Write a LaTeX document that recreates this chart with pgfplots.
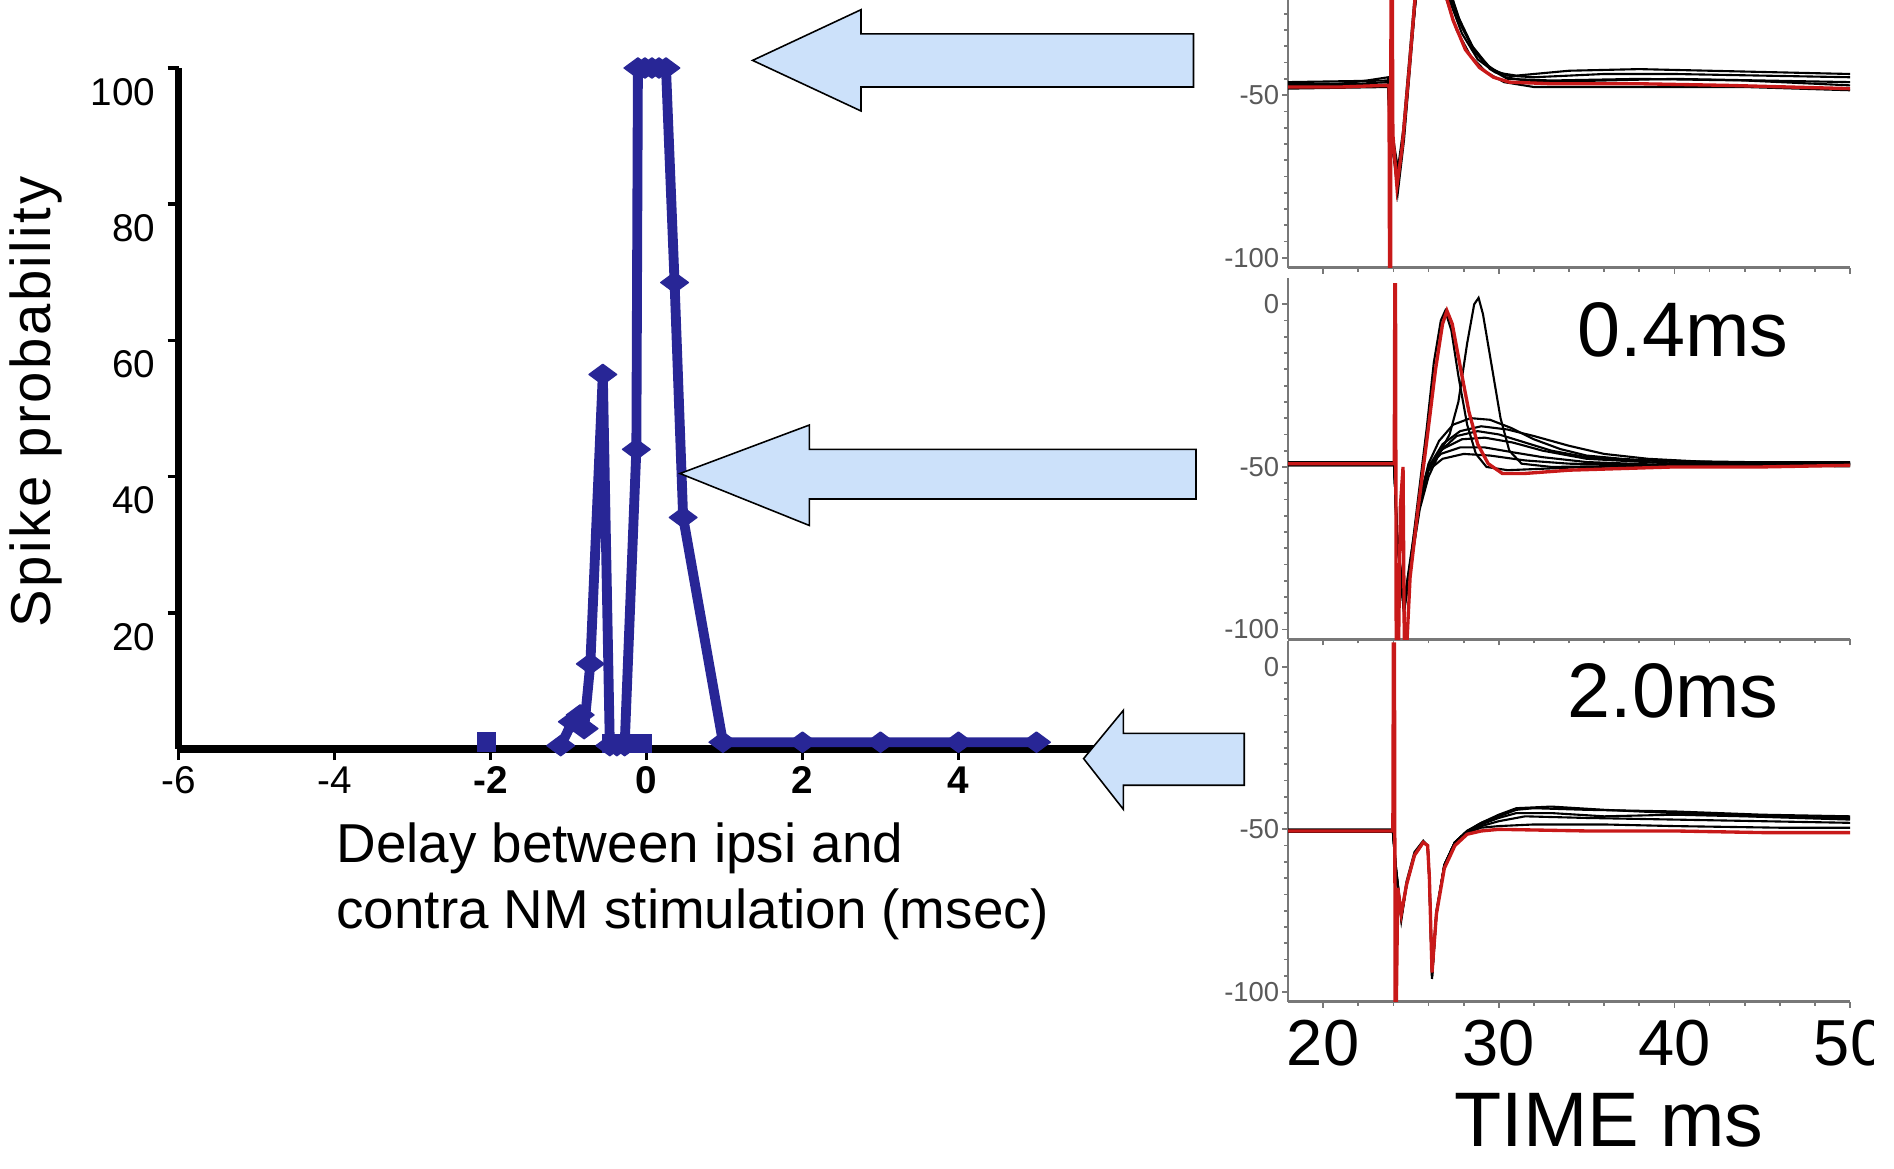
\documentclass[border=0pt]{standalone}
\usepackage{pgfplots}
\pgfplotsset{compat=1.18}
\usepackage{fontspec}
\setmainfont{Liberation Sans}
\definecolor{dblue}{RGB}{40,38,150}
\definecolor{lblue}{RGB}{204,225,250}
\definecolor{tred}{RGB}{200,25,25}
\definecolor{axgray}{RGB}{120,120,120}

\pgfplotsset{
  panel/.style={
    anchor=south west, scale only axis, width=56.2mm, height=36.1mm,
    xmin=18, xmax=50, ymin=-103, ymax=8,
    axis x line=bottom, axis y line=left,
    axis line style={axgray, line width=0.7pt, -},
    xtick={20,30,40,50}, minor x tick num=4,
    ytick={-100,-50,0}, minor y tick num=9,
    tick style={axgray, line width=0.5pt},
    major tick length=0.6mm, minor tick length=0.4mm,
    tick align=outside,
    yticklabels={-100,-50,0},
    yticklabel style={font=\fontsize{7.8}{9}\selectfont, text=black!65, inner sep=0.6pt},
    xticklabels={},
  },
  blk/.style={black, line width=0.6pt, no marks},
  rd/.style={tred, line width=0.95pt, no marks},
}

\begin{document}
\begin{tikzpicture}
\useasboundingbox (0,0) rectangle (189.4mm,116.8mm);
\clip (0,0) rectangle (187.3mm,116.8mm);

% ---------------- left chart ----------------
\begin{axis}[
  at={(17.85mm,41.9mm)}, anchor=south west, scale only axis,
  width=93.6mm, height=68.1mm,
  xmin=-6, xmax=6, ymin=0, ymax=100, clip=false,
  axis x line=bottom, axis y line=left,
  axis line style={line width=2pt, -},
  xtick={-6,-4,-2,0,2,4},
  xticklabels={-6,-4,\textbf{-2},\textbf{0},\textbf{2},\textbf{4}},
  ytick={20,40,60,80,100}, yticklabels={20,40,60,80,100},
  tick style={black, line width=1pt}, major tick length=1.1mm, tick align=outside,
  xticklabel style={font=\fontsize{11}{12}\selectfont, yshift=0.6mm},
  yticklabel style={font=\fontsize{11}{13}\selectfont, yshift=-2.4mm},
]
\addplot[dblue, only marks, mark=square*, mark size=2.6pt, mark options={line width=0.4pt}]
  coordinates {(-2.05,1)};
\addplot[dblue, line width=2.8pt, mark=square*, mark size=2.4pt, mark options={line width=0.4pt}]
  coordinates {(-0.45,0.8) (-0.28,0.8) (-0.05,0.8)};
\addplot[dblue, line width=2.8pt, line join=round, mark=diamond*, mark size=3.6pt,
  mark options={line width=0.4pt, xscale=1.45, yscale=0.8}]
  coordinates {
  (-1.1,0.5) (-0.95,4) (-0.85,5) (-0.8,3) (-0.72,12.5) (-0.56,55)
  (-0.47,0.5) (-0.38,0.5) (-0.28,0.5) (-0.13,44) (-0.11,100) (-0.02,100)
  (0.07,100) (0.16,100) (0.25,100) (0.36,68.5) (0.47,34) (0.98,1)
  (2,1) (3,1) (4,1) (5,1)
  };
\end{axis}

\node[rotate=90, font=\fontsize{16}{18}\selectfont\addfontfeature{LetterSpace=4.5}]
  at (3.6mm,76.6mm) {Spike probability};
\node[anchor=base west, font=\fontsize{15.6}{18}\selectfont] at (32.4mm,30.6mm)
  {Delay between ipsi and};
\node[anchor=base west, font=\fontsize{15.6}{18}\selectfont] at (32.4mm,24.0mm)
  {contra NM stimulation (msec)};

% ---------------- right panels ----------------
% panel 1 (top)
\begin{axis}[panel, at={(128.8mm,90.05mm)}, yticklabels={-100,-50,{}}]
\addplot[blk] coordinates {(18,-47) (21,-46.5) (22.5,-45.5) (23.7,-44.5) (23.8,-58) (24.25,-80) (24.6,-64) (25.0,-38) (25.4,-12) (25.7,0) (26.0,2) (26.4,-4) (27.1,-16) (27.9,-29) (28.7,-37) (29.6,-42) (30.5,-44) (32,-44.5) (36,-43.5) (40,-43.5) (45,-44) (50,-44.5)};
\addplot[blk] coordinates {(18,-46.5) (22,-46.5) (23.7,-46) (23.8,-60) (24.25,-77) (24.65,-58) (25.05,-33) (25.45,-9) (25.8,1) (26.2,-2) (26.9,-13) (27.7,-26) (28.5,-35) (29.4,-41) (30.4,-44.5) (32,-46) (36,-45.5) (40,-45) (45,-45.5) (50,-46)};
\addplot[blk] coordinates {(18,-48) (23.7,-47.5) (23.8,-62) (24.2,-75) (24.55,-61) (24.95,-36) (25.35,-11) (25.75,0) (26.1,-4) (26.8,-17) (27.6,-30) (28.4,-38) (29.3,-43) (30.3,-46) (32,-47.5) (38,-47.5) (44,-47.5) (50,-48.5)};
\addplot[blk] coordinates {(18,-46) (23.7,-45.5) (23.8,-57) (24.3,-74) (24.7,-56) (25.1,-30) (25.55,-6) (25.9,1) (26.3,-5) (27.0,-18) (27.9,-31) (28.8,-39) (29.8,-43) (31,-44) (34,-42.5) (38,-42) (42,-42.5) (46,-43) (50,-43.5)};
\addplot[blk] coordinates {(18,-47.2) (23.7,-46.8) (23.8,-59) (24.25,-78) (24.6,-62) (25.0,-36) (25.45,-10) (25.8,0) (26.2,-3) (26.9,-15) (27.8,-28) (28.6,-36.5) (29.5,-42) (30.5,-45) (33,-45.5) (38,-45) (44,-45.5) (50,-47)};
\addplot[rd] coordinates {(18,-47.5) (21,-47.5) (23.5,-47) (23.75,-47) (23.78,-103) (23.84,-103) (23.87,8) (23.92,8) (23.97,-62) (24.2,-78) (24.5,-66) (24.9,-42) (25.3,-16) (25.6,-1) (25.8,1) (26.1,-3) (26.7,-14) (27.4,-27) (28.1,-36) (28.9,-41.5) (29.7,-44.5) (30.6,-46) (33,-46.5) (38,-46.5) (43,-47) (50,-48)};
\end{axis}

% panel 2 (middle)
\begin{axis}[panel, at={(128.8mm,52.87mm)}]
\addplot[blk] coordinates {(18,-48.5) (24.05,-48.5) (24.2,-70) (24.6,-92) (25.0,-78) (25.4,-60) (25.9,-38) (26.3,-18) (26.7,-5) (26.95,-2) (27.3,-8) (27.7,-22) (28.2,-37) (28.7,-46) (29.3,-50) (30.5,-51) (35,-50) (42,-49.5) (50,-49)};
\addplot[blk] coordinates {(18,-49.5) (24.05,-49.5) (24.2,-72) (24.6,-94) (25.0,-80) (25.5,-63) (26.0,-53) (26.6,-46) (27.2,-40) (27.7,-30) (28.2,-12) (28.6,0) (28.85,2) (29.1,-3) (29.6,-19) (30.1,-35) (30.6,-45) (31.3,-49) (33,-50) (40,-49.5) (50,-49)};
\addplot[blk] coordinates {(18,-49) (24.05,-49) (24.2,-70) (24.6,-93) (25.0,-79) (25.5,-60) (26.0,-49) (26.6,-42) (27.4,-37) (28.4,-35) (29.5,-35.5) (30.7,-38) (32,-41.5) (33.5,-44.5) (35,-46.5) (37,-47.5) (40,-48.5) (45,-49) (50,-49)};
\addplot[blk] coordinates {(18,-48.8) (24.05,-48.8) (24.2,-71) (24.6,-95) (25.0,-80) (25.5,-62) (26.0,-51) (26.7,-45) (27.6,-40.5) (28.8,-39) (30,-40) (31.5,-42.5) (33,-45) (35,-47) (38,-48) (44,-48.5) (50,-48.5)};
\addplot[blk] coordinates {(18,-49.5) (24.05,-49.5) (24.2,-72) (24.6,-92) (25.0,-77) (25.5,-59) (26.0,-50) (26.7,-46) (27.8,-44) (29.2,-44) (30.8,-45.5) (32.5,-47) (35,-48.5) (40,-49.5) (50,-49.5)};
\addplot[blk] coordinates {(18,-49.2) (24.05,-49.2) (24.2,-70) (24.6,-94) (25.0,-78) (25.5,-60) (26.0,-51) (26.8,-47.5) (28,-46) (29.5,-46.5) (31.5,-48) (34,-49) (40,-49.5) (50,-49.8)};
\addplot[blk] coordinates {(18,-49) (24.05,-49) (24.2,-70) (24.6,-93) (25.0,-79) (25.5,-61) (26.0,-50) (26.8,-43) (27.8,-39) (29.0,-37.5) (30.5,-38.5) (32,-40.5) (34,-43.5) (36,-46) (38.5,-47.5) (42,-48.5) (50,-49)};
\addplot[blk] coordinates {(18,-49.3) (24.05,-49.3) (24.2,-71) (24.6,-93) (25.0,-79) (25.5,-61) (26.0,-50) (26.8,-44.5) (27.9,-41.5) (29.2,-41) (30.8,-42.5) (32.5,-45) (35,-47.5) (40,-49) (50,-49.3)};
\addplot[rd] coordinates {(18,-49) (22,-49) (24.05,-49) (24.08,6) (24.12,6) (24.16,-103) (24.3,-103) (24.4,-62) (24.55,-50) (24.62,-103) (24.78,-103) (24.95,-84) (25.4,-63) (25.9,-42) (26.4,-20) (26.8,-6) (27.05,-2) (27.35,-6) (27.8,-19) (28.3,-33) (28.8,-43) (29.4,-49) (30.2,-52) (31.5,-52) (34,-51) (40,-50) (45,-50) (50,-49.5)};
\end{axis}

% panel 3 (bottom)
\begin{axis}[panel, at={(128.8mm,16.63mm)},
  xticklabels={20,30,40,50},
  xticklabel style={font=\fontsize{18.5}{20}\selectfont},
]
\addplot[blk] coordinates {(18,-50.3) (23.97,-50.3) (24.15,-62) (24.45,-77) (24.75,-67) (25.2,-58) (25.7,-54) (25.95,-55) (26.05,-65) (26.2,-95) (26.45,-76) (26.9,-61) (27.5,-54) (28.2,-50.5) (29,-48) (30,-46) (31,-44) (32,-43.5) (35,-44) (40,-44.5) (45,-45.5) (50,-46)};
\addplot[blk] coordinates {(18,-50.3) (23.97,-50.3) (24.15,-62) (24.45,-77) (24.75,-67) (25.2,-58) (25.7,-54) (25.95,-55) (26.05,-65) (26.2,-95) (26.45,-76) (26.9,-61) (27.5,-54) (28.2,-50.5) (29,-49) (30,-47.5) (31.5,-46) (35,-46.5) (40,-47) (45,-47.5) (50,-48)};
\addplot[blk] coordinates {(18,-50.6) (23.97,-50.6) (24.15,-63) (24.45,-78) (24.75,-67) (25.2,-58) (25.7,-54) (25.95,-55) (26.05,-66) (26.2,-96) (26.45,-76) (26.9,-61) (27.5,-54) (28.2,-50.5) (29,-48.5) (30,-46.5) (31,-45) (33,-45) (36,-46) (40,-45.5) (44,-46) (50,-47)};
\addplot[blk] coordinates {(18,-50.0) (23.97,-50.0) (24.15,-62) (24.45,-76) (24.75,-66) (25.2,-57) (25.7,-53.5) (25.95,-55) (26.05,-65) (26.2,-94) (26.45,-75) (26.9,-61) (27.5,-54) (28.2,-51) (29,-49.5) (30,-49) (32,-48.5) (36,-48.5) (40,-49) (46,-49.5) (50,-49.5)};
\addplot[blk] coordinates {(18,-50.8) (23.97,-50.8) (24.15,-63) (24.45,-77) (24.75,-67) (25.2,-58) (25.7,-54) (25.95,-55) (26.05,-65) (26.2,-95) (26.45,-76) (26.9,-61) (27.5,-54) (28.2,-50.5) (29,-48) (30,-45.5) (31,-43.5) (33,-43) (36,-44) (40,-45) (45,-46) (50,-46.5)};
\addplot[rd] coordinates {(18,-50.5) (23.9,-50.5) (23.97,-50.5) (24.0,7) (24.06,7) (24.1,-103) (24.17,-103) (24.25,-68) (24.45,-76) (24.75,-67) (25.2,-58) (25.7,-54) (25.95,-55) (26.05,-65) (26.2,-94) (26.45,-76) (26.9,-62) (27.5,-55) (28.2,-51.5) (29,-50.5) (30,-50) (35,-50.5) (40,-50.5) (45,-51) (50,-51)};
\end{axis}

\node[font=\fontsize{22}{24}\selectfont] at (168.3mm,83.8mm) {0.4ms};
\node[font=\fontsize{22}{24}\selectfont] at (167.3mm,47.7mm) {2.0ms};
\node[font=\fontsize{22}{24}\selectfont, inner sep=0pt, anchor=base] at (160.9mm,2.2mm) {TIME ms};

% ---------------- arrows ----------------
\filldraw[fill=lblue, draw=black, line width=0.45pt, line join=miter]
  (75.26mm,110.76mm) -- (86.1mm,115.83mm) -- (86.1mm,113.42mm) -- (119.35mm,113.42mm)
  -- (119.35mm,108.1mm) -- (86.1mm,108.1mm) -- (86.1mm,105.7mm) -- cycle;
\filldraw[fill=lblue, draw=black, line width=0.45pt, line join=miter]
  (68.0mm,69.45mm) -- (80.94mm,74.3mm) -- (80.94mm,71.86mm) -- (119.6mm,71.86mm)
  -- (119.6mm,66.9mm) -- (80.94mm,66.9mm) -- (80.94mm,64.25mm) -- cycle;
\filldraw[fill=lblue, draw=black, line width=0.45pt, line join=miter]
  (108.36mm,40.94mm) -- (112.34mm,45.77mm) -- (112.34mm,43.47mm) -- (124.42mm,43.47mm)
  -- (124.42mm,38.28mm) -- (112.34mm,38.28mm) -- (112.34mm,35.86mm) -- cycle;
\end{tikzpicture}
\end{document}
